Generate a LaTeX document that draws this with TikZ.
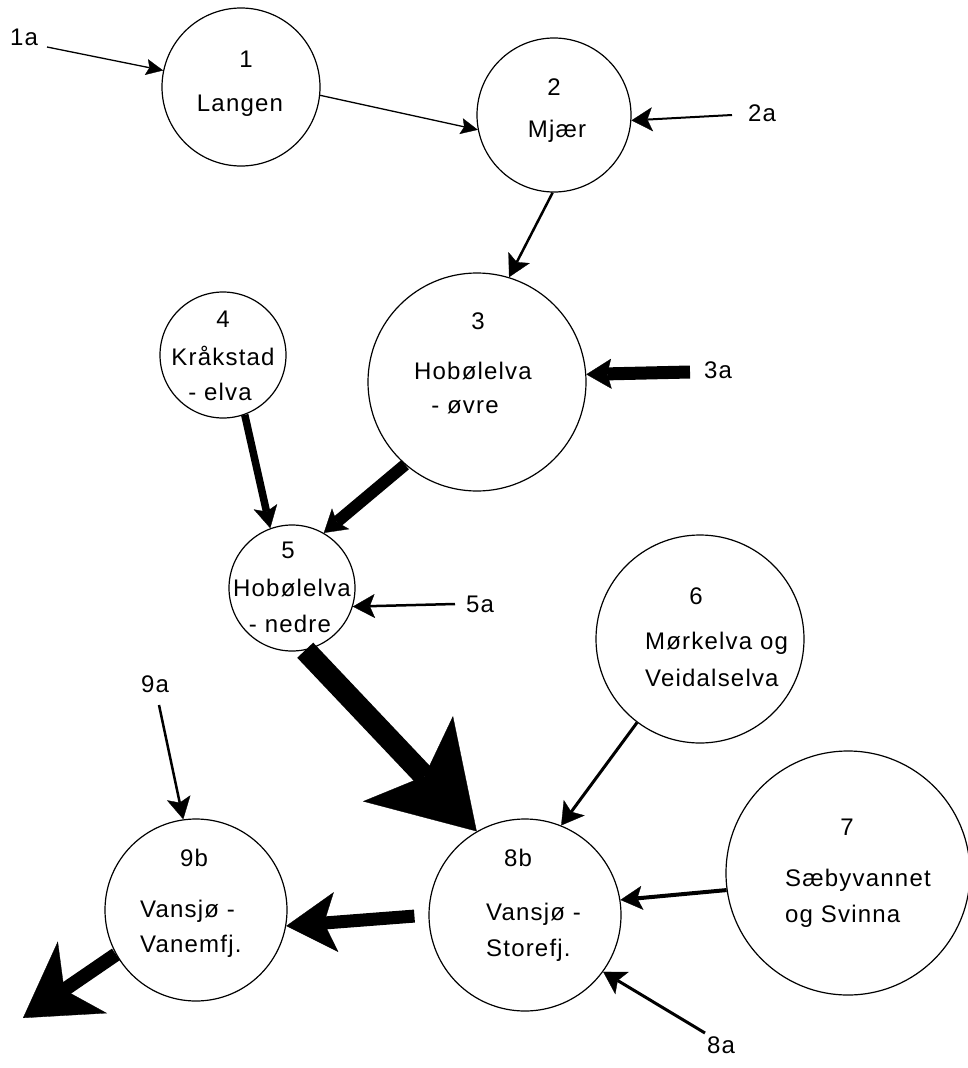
\documentclass[tikz,border=0pt]{standalone}
\usepackage{fontspec}
\setmainfont{Liberation Sans}[LetterSpace=5]
\usetikzlibrary{arrows.meta}
\tikzset{
  circ/.style={draw, line width=1.2pt, circle, inner sep=0pt, minimum size=#1},
  txt/.style={inner sep=0pt, font=\fontsize{24}{28}\selectfont},
  ltxt/.style={txt, anchor=west},
  flow/.style n args={4}{line width=#1, -{Stealth[length=#2, width=#3, inset=#4, line width=0.3pt]}},
}
\begin{document}
\begin{tikzpicture}[x=1pt,y=-1pt]
\useasboundingbox (0,0) rectangle (968,1068);
% circles
\node[circ=158pt] (c1) at (241,87) {};
\node[circ=154pt] (c2) at (554,115) {};
\node[circ=218pt] (c3) at (477,382) {};
\node[circ=126pt] (c4) at (223,355) {};
\node[circ=126pt] (c5) at (292,588) {};
\node[circ=208pt] (c6) at (700,639) {};
\node[circ=244pt] (c7) at (848,873) {};
\node[circ=192pt] (c8) at (525,915) {};
\node[circ=182pt] (c9) at (196,910) {};
% texts
\node[txt] (t1n) at (246,59) {1};
\node[txt] (t1) at (240,106) {Langen};
\node[txt] (t2n) at (554,87) {2};
\node[txt] (t2) at (557,131) {Mjær};
\node[txt] (t3n) at (478,321) {3};
\node[txt] (t3a) at (473,371) {Hobølelva};
\node[txt] (t3b) at (465,407) {- øvre};
\node[txt] (t4n) at (223,319) {4};
\node[txt] (t4a) at (223,356) {Kråkstad};
\node[txt] (t4b) at (220,392) {- elva};
\node[txt] (t5n) at (288,550) {5};
\node[txt] (t5a) at (292,588) {Hobølelva};
\node[txt] (t5b) at (290,624) {- nedre};
\node[txt] (t6n) at (696,596) {6};
\node[ltxt] (t6a) at (645,643) {Mørkelva og};
\node[ltxt] (t6b) at (645,678) {Veidalselva};
\node[txt] (t7n) at (847,827) {7};
\node[ltxt] (t7a) at (785,880) {Sæbyvannet};
\node[ltxt] (t7b) at (785,916) {og Svinna};
\node[txt] (t8n) at (518,858) {8b};
\node[ltxt] (t8a) at (486,914) {Vansjø -};
\node[ltxt] (t8b) at (486,950) {Storefj.};
\node[txt] (t9n) at (194,858) {9b};
\node[ltxt] (t9a) at (140,911) {Vansjø -};
\node[ltxt] (t9b) at (140,946) {Vanemfj.};
% inflow labels
\node[txt] (l1a) at (24,37) {1a};
\node[txt] (l2a) at (762,113) {2a};
\node[txt] (l3a) at (718,370) {3a};
\node[txt] (l5a) at (480,604) {5a};
\node[txt] (l9a) at (155,684) {9a};
\node[txt] (l8a) at (721,1045) {8a};
\coordinate (p1a) at (47,47);
\coordinate (p2a) at (732,115);
\coordinate (p3a) at (690,372);
\coordinate (p5a) at (455,604);
\coordinate (p9a) at (159,705);
\coordinate (p8a) at (705,1033);
\coordinate (pout) at (23,1018);
% connectors
\draw[flow={1.3pt}{17pt}{16pt}{3pt}] (p1a) -- (c1.168);
\draw[flow={1.3pt}{17pt}{16pt}{3pt}] (c1.-6) -- (c2.-169);
\draw[flow={2pt}{21pt}{24pt}{5pt}] (p2a) -- (c2.-4);
\draw[flow={2.5pt}{22pt}{24pt}{5pt}] (c2.-91) -- (c3.73);
\draw[flow={13pt}{25pt}{30pt}{4pt}] (p3a) -- (c3.4);
\draw[flow={7.5pt}{22pt}{24pt}{5pt}] (c4.-70) -- (c5.110);
\draw[flow={12pt}{22pt}{27pt}{5pt}] (c3.-131) -- (c5.60);
\draw[flow={2.5pt}{22pt}{24pt}{5pt}] (p5a) -- (c5.-17);
\draw[flow={22pt}{100pt}{124pt}{24pt}] (c5.-78) -- (c8.120);
\draw[flow={3pt}{22pt}{26pt}{5pt}] (c6.-127) -- (c8.68);
\draw[flow={4pt}{22pt}{24pt}{5pt}] (c7.-172) -- (c8.9);
\draw[flow={3pt}{22pt}{26pt}{5pt}] (p8a) -- (c8.-36);
\draw[flow={2.5pt}{22pt}{24pt}{5pt}] (p9a) -- (c9.98);
\draw[flow={13pt}{50pt}{60pt}{12pt}, shorten <=14pt] (c8.180) -- (c9.-10);
\draw[flow={14pt}{72pt}{87pt}{22pt}] (c9.-151) -- (pout);
\end{tikzpicture}
\end{document}
